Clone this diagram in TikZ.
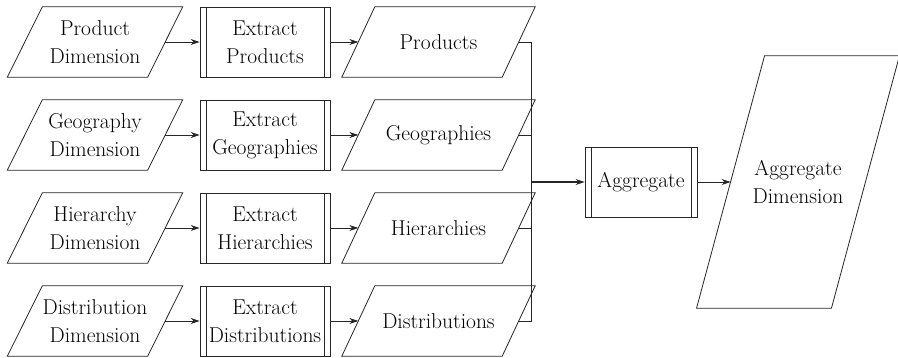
\documentclass[tikz,border=0pt]{standalone}
\usetikzlibrary{calc,arrows.meta}

\begin{document}
\begin{tikzpicture}[x=1pt,y=-1pt,
  every node/.style={font=\fontsize{21.5}{28}\selectfont, align=center, inner sep=0pt},
  line/.style={line width=0.8pt, draw=black!85},
  arr/.style={line, -{Stealth[length=9pt,width=6pt]}},
  % rectangle body of a slanted data shape; the outline is added afterwards
  databody/.style={minimum height=70pt},
  % process box with a double line on both sides
  procbox/.style={line, draw, minimum height=70pt,
    path picture={
      \draw[line] ([xshift=6pt]path picture bounding box.north west) -- ([xshift=6pt]path picture bounding box.south west);
      \draw[line] ([xshift=-6pt]path picture bounding box.north east) -- ([xshift=-6pt]path picture bounding box.south east);
    }},
]
\useasboundingbox (0,0) rectangle (898,357);

% source dimensions
\node[databody, minimum width=140pt] (pd) at (95,42)  {Product\\Dimension};
\node[databody, minimum width=140pt] (gd) at (95,135) {Geography\\Dimension};
\node[databody, minimum width=140pt] (hd) at (95,228) {Hierarchy\\Dimension};
\node[databody, minimum width=140pt] (dd) at (95,321) {Distribution\\Dimension};

% extraction steps
\node[procbox, minimum width=130pt] (ep) at (265,42)  {Extract\\Products};
\node[procbox, minimum width=130pt] (eg) at (265,135) {Extract\\Geographies};
\node[procbox, minimum width=130pt] (eh) at (265,228) {Extract\\Hierarchies};
\node[procbox, minimum width=130pt] (ed) at (265,321) {Extract\\Distributions};

% extracted data sets
\node[databody, minimum width=160pt] (pr) at (438.5,42)  {Products};
\node[databody, minimum width=160pt] (ge) at (438.5,135) {Geographies};
\node[databody, minimum width=160pt] (hi) at (438.5,228) {Hierarchies};
\node[databody, minimum width=160pt] (di) at (438.5,321) {Distributions};

% aggregation
\node[procbox, minimum width=112pt] (agg) at (641,182) {Aggregate};
\node[minimum width=134.5pt, minimum height=252pt] (ad) at (798,182) {Aggregate\\Dimension};

% slanted outlines of the data shapes
\foreach \n/\s in {pd/35,gd/35,hd/35,dd/35,pr/33,ge/33,hi/33,di/33,ad/68}{
  \draw[line] ($(\n.south west)+(-\s/2,0)$) -- ($(\n.north west)+(\s/2,0)$)
    -- ($(\n.north east)+(\s/2,0)$) -- ($(\n.south east)+(-\s/2,0)$) -- cycle;
}

% flow within each row
\foreach \a/\b/\c in {pd/ep/pr, gd/eg/ge, hd/eh/hi, dd/ed/di}{
  \draw[arr] (\a.east) -- (\b.west);
  \draw[arr] (\b.east) -- (\c.west);
}

% collecting bus into the aggregation step
\coordinate (bus) at (531,182);
\draw[line] (pr.east) -| (bus);
\draw[line] (di.east) -| (bus);
\draw[line] (ge.east) -- (ge.east -| bus);
\draw[line] (hi.east) -- (hi.east -| bus);
\draw[arr, line width=1.3pt] (bus) -- (agg.west);
\draw[arr] (agg.east) -- (ad.west);
\end{tikzpicture}
\end{document}
